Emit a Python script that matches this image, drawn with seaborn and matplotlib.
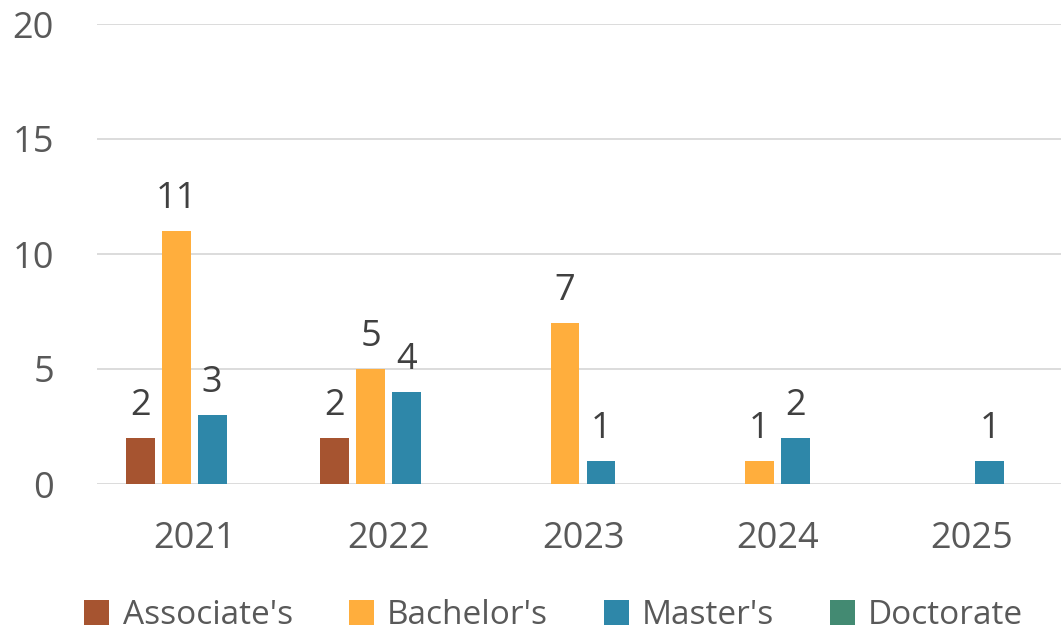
import pandas as pd
import matplotlib.pyplot as plt
import seaborn as sns

years = ['2021', '2022', '2023', '2024', '2025']
degrees = ["Associate's", "Bachelor's", "Master's", "Doctorate"]
associate = [2, 2, 0, 0, 0]
bachelor = [11, 5, 7, 1, 0]
master = [3, 4, 1, 2, 1]
doctorate = [0, 0, 0, 0, 0]
colores = ['#A65430', '#FFAE3D', '#2E87A9', '#438A72']

df = pd.DataFrame({
    'Año': years * 4,
    'Grado': [d for d in degrees for _ in years],
    'Valor': associate + bachelor + master + doctorate,
})

sns.set_style('white')
plt.rcParams['font.family'] = ['Open Sans', 'DejaVu Sans']

fig = plt.figure(figsize=(10.61, 6.34), dpi=100)
ax = fig.add_axes([97 / 1061, 1 - 484 / 634, 972 / 1061, 460 / 634])

sns.barplot(data=df, x='Año', y='Valor', hue='Grado', palette=colores,
            saturation=1, width=0.74, gap=0.2, linewidth=0, ax=ax, legend=True)

# etiquetas solo para valores distintos de cero
for cont in ax.containers:
    vals = [b.get_height() for b in cont]
    ax.bar_label(cont, labels=[f'{v:.0f}' if v > 0 else '' for v in vals],
                 padding=10, fontsize=26, color='#404040')

ax.set_ylim(0, 20)
ax.set_yticks([0, 5, 10, 15, 20])
ax.set_xlim(-0.5, 4.5)
ax.grid(axis='y', color='#D9D9D9', linewidth=1.3)
ax.set_axisbelow(True)
for s in ax.spines.values():
    s.set_visible(False)
ax.tick_params(axis='y', length=0, pad=31, labelsize=26, labelcolor='#595959')
ax.tick_params(axis='x', length=0, pad=27, labelsize=26, labelcolor='#595959')
ax.set_xlabel('')
ax.set_ylabel('')

handles, labels = ax.get_legend_handles_labels()
ax.get_legend().remove()
fig.legend(handles, labels, loc='center', bbox_to_anchor=(0.522, 0.029), ncol=4,
           frameon=False, fontsize=24, labelcolor='#595959', handlelength=0.75,
           handleheight=0.75, handletextpad=0.4, columnspacing=1.67)

fig.savefig('out.png', dpi=100)
